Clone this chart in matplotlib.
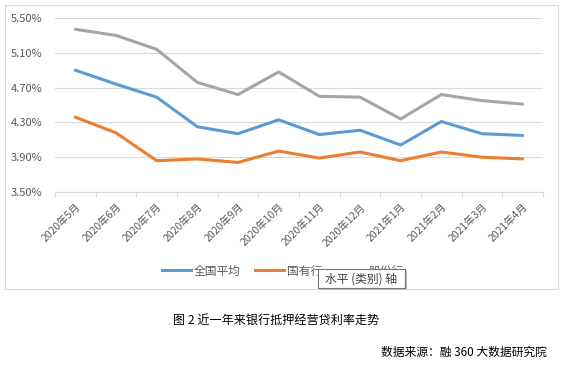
import matplotlib
matplotlib.use('Agg')
import matplotlib.pyplot as plt
from matplotlib.patches import Rectangle
from matplotlib.lines import Line2D
from matplotlib.ticker import FixedLocator, FuncFormatter

plt.rcParams['font.family'] = ['Noto Sans CJK SC', 'DejaVu Sans']

# data (%)
months = ['2020年5月', '2020年6月', '2020年7月', '2020年8月', '2020年9月', '2020年10月',
          '2020年11月', '2020年12月', '2021年1月', '2021年2月', '2021年3月', '2021年4月']
national_avg = [4.90, 4.74, 4.59, 4.25, 4.17, 4.33, 4.16, 4.21, 4.04, 4.31, 4.17, 4.15]
state_banks = [4.36, 4.18, 3.86, 3.88, 3.84, 3.97, 3.89, 3.96, 3.86, 3.96, 3.90, 3.88]
joint_stock = [5.37, 5.30, 5.14, 4.76, 4.62, 4.88, 4.60, 4.59, 4.34, 4.62, 4.55, 4.51]
series_names = ['全国平均', '国有行', '股份行']
y_ticks = [3.50, 3.90, 4.30, 4.70, 5.10, 5.50]

colors = ['#5B9BD5', '#ED7D31', '#A5A5A5']
W, H = 563, 365

fig = plt.figure(figsize=(W / 100, H / 100), dpi=100)

def fx(px):
    return px / W

def fy(py):
    return 1 - py / H

# chart frame
fig.patches.append(Rectangle((fx(5), fy(289)), fx(553), (289 - 5) / H, transform=fig.transFigure,
                             fill=False, edgecolor='#D9D9D9', linewidth=0.8))

ax = fig.add_axes([fx(55), fy(192), fx(488), 174 / H])
x = list(range(len(months)))
for vals, c in zip([national_avg, state_banks, joint_stock], colors):
    ax.plot(x, vals, color=c, linewidth=2.2, solid_capstyle='round', zorder=3)

ax.set_xlim(-0.5, len(months) - 0.5)
ax.set_ylim(3.50, 5.50)
ax.set_yticks(y_ticks)
ax.yaxis.set_major_formatter(FuncFormatter(lambda v, p: f'{v:.2f}%'))
ax.grid(axis='y', color='#D9D9D9', linewidth=0.8)
ax.set_axisbelow(True)
for s in ['top', 'right', 'left']:
    ax.spines[s].set_visible(False)
ax.spines['bottom'].set_color('#D9D9D9')
ax.spines['bottom'].set_linewidth(0.8)
ax.tick_params(axis='y', length=0, labelsize=8, labelcolor='#595959', pad=9)

ax.set_xticks(x)
ax.set_xticklabels(months, rotation=45, ha='right', rotation_mode='anchor',
                   fontsize=7.5, color='#595959')
ax.tick_params(axis='x', which='major', length=0, pad=7)
ax.xaxis.set_minor_locator(FixedLocator([i - 0.5 for i in range(len(months) + 1)]))
ax.tick_params(axis='x', which='minor', length=3.5, color='#D9D9D9', width=0.8)

handles = [Line2D([0], [0], color=c, linewidth=2.2) for c in colors]
fig.legend(handles, series_names, loc='center', bbox_to_anchor=(fx(283), fy(271)), ncol=3,
           frameon=False, fontsize=8.5, handlelength=2.4, handletextpad=0.3, columnspacing=1.2,
           labelcolor='#595959')

# tooltip over the legend
fig.patches.append(Rectangle((fx(320), fy(290)), fx(87), 19 / H, transform=fig.transFigure,
                             facecolor='#BFBFBF', edgecolor='none', zorder=5))
fig.patches.append(Rectangle((fx(318), fy(288)), fx(87), 19 / H, transform=fig.transFigure,
                             facecolor='white', edgecolor='#767676', linewidth=0.8, zorder=6))
fig.text(fx(361), fy(279), '水平 (类别) 轴', ha='center', va='center', fontsize=8.5,
         color='#404040', zorder=7)

fig.text(fx(173), fy(320), '图 2 近一年来银行抵押经营贷利率走势', ha='left', va='center',
         fontsize=8.7, color='black')
fig.text(fx(547), fy(352), '数据来源：融 360 大数据研究院', ha='right', va='center',
         fontsize=8.5, color='black')

fig.savefig('out.png', dpi=100)
